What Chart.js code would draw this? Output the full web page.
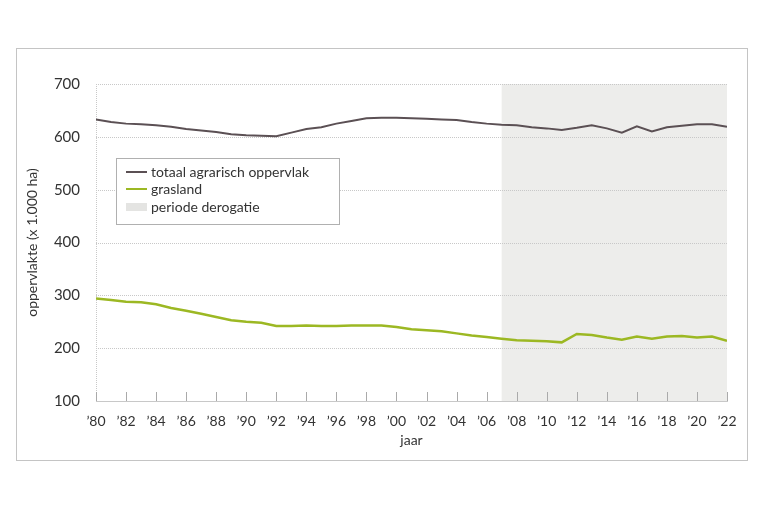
<!DOCTYPE html>
<html>
<head>
<meta charset="utf-8">
<script src="https://cdn.jsdelivr.net/npm/chart.js@4/dist/chart.umd.min.js"></script>
<style>
  body { margin: 0; background: #fff; }
  #wrap { position: relative; width: 770px; height: 513px; }
  #frame { position: absolute; left: 16px; top: 48px; width: 732px; height: 413px; border: 1px solid #c4c4c4; box-sizing: border-box; }
  canvas { position: absolute; left: 0; top: 0; }
</style>
</head>
<body>
<div id="wrap">
  <div id="frame"></div>
  <canvas id="areaChart" width="770" height="513"></canvas>
</div>
<script>
// jaren en waarden (x 1.000 ha)
const years = [1980, 1981, 1982, 1983, 1984, 1985, 1986, 1987, 1988, 1989, 1990,
    1991, 1992, 1993, 1994, 1995, 1996, 1997, 1998, 1999, 2000,
    2001, 2002, 2003, 2004, 2005, 2006, 2007, 2008, 2009, 2010,
    2011, 2012, 2013, 2014, 2015, 2016, 2017, 2018, 2019, 2020, 2021, 2022];
const totaal = [633, 628, 625, 624, 622, 619, 615, 612, 609, 605, 603,
    602, 601, 608, 615, 618, 625, 630, 635, 636, 636,
    635, 634, 633, 632, 628, 625, 623, 622, 618, 616,
    613, 617, 622, 616, 608, 620, 610, 618, 621, 624, 624, 619];
const grasland = [294, 291, 288, 287, 283, 276, 271, 265, 259, 253, 250,
    248, 242, 242, 243, 242, 242, 243, 243, 243, 240,
    236, 234, 232, 228, 224, 221, 218, 215, 214, 213,
    211, 227, 225, 220, 216, 222, 218, 222, 223, 220, 222, 214];
const derogatieStart = 2007;
const derogatieEnd = 2022;
const legendLabels = ['totaal agrarisch oppervlak', 'grasland', 'periode derogatie'];

const textColor = '#333333';
const shadeColor = '#ededeb';

// achtergrond derogatie, tickstreepjes en legenda
const extras = {
    id: 'extras',
    beforeDatasetsDraw(chart) {
        const { ctx, chartArea, scales } = chart;
        const x0 = scales.x.getPixelForValue(derogatieStart);
        const x1 = scales.x.getPixelForValue(derogatieEnd);
        ctx.save();
        ctx.fillStyle = shadeColor;
        ctx.fillRect(x0, chartArea.top, x1 - x0, chartArea.bottom - chartArea.top);
        // gestippelde rasterlijnen
        ctx.strokeStyle = '#c8c8c8';
        ctx.lineWidth = 1;
        ctx.setLineDash([1, 1]);
        scales.y.ticks.forEach(t => {
            const y = Math.round(scales.y.getPixelForValue(t.value)) + 0.5;
            ctx.beginPath();
            ctx.moveTo(chartArea.left, y);
            ctx.lineTo(chartArea.right, y);
            ctx.stroke();
        });
        ctx.beginPath();
        ctx.moveTo(chartArea.left + 0.5, chartArea.top);
        ctx.lineTo(chartArea.left + 0.5, chartArea.bottom);
        ctx.stroke();
        ctx.setLineDash([]);
        // korte streepjes op de x-as
        ctx.strokeStyle = '#aaaaaa';
        scales.x.ticks.forEach(t => {
            const x = Math.round(scales.x.getPixelForValue(t.value)) + 0.5;
            ctx.beginPath();
            ctx.moveTo(x, chartArea.bottom);
            ctx.lineTo(x, chartArea.bottom - 9);
            ctx.stroke();
        });
        ctx.restore();
    },
    afterDatasetsDraw(chart) {
        const { ctx, chartArea } = chart;
        const bx = chartArea.left + 20, by = chartArea.top + 74;
        ctx.save();
        ctx.fillStyle = '#ffffff';
        ctx.fillRect(bx, by, 223, 66);
        ctx.strokeStyle = '#b0b0b0';
        ctx.lineWidth = 1;
        ctx.strokeRect(bx + 0.5, by + 0.5, 223, 66);
        ctx.font = '14px Lato';
        ctx.textBaseline = 'middle';
        const rows = [by + 14, by + 31, by + 49];
        chart.data.datasets.forEach((ds, i) => {
            ctx.strokeStyle = ds.borderColor;
            ctx.lineWidth = 2;
            ctx.beginPath();
            ctx.moveTo(bx + 10, rows[i]);
            ctx.lineTo(bx + 31, rows[i]);
            ctx.stroke();
            ctx.fillStyle = textColor;
            ctx.fillText(ds.label, bx + 35, rows[i]);
        });
        ctx.fillStyle = '#e4e4e2';
        ctx.fillRect(bx + 10, rows[2] - 4, 21, 8);
        ctx.fillStyle = textColor;
        ctx.fillText(legendLabels[2], bx + 35, rows[2]);
        ctx.restore();
    }
};

const ctx = document.getElementById('areaChart').getContext('2d');
const chart = new Chart(ctx, {
    type: 'line',
    data: {
        datasets: [{
            label: legendLabels[0],
            data: years.map((y, i) => ({ x: y, y: totaal[i] })),
            borderColor: '#5b5054',
            borderWidth: 2,
            pointRadius: 0,
            tension: 0,
            fill: false
        },
        {
            label: legendLabels[1],
            data: years.map((y, i) => ({ x: y, y: grasland[i] })),
            borderColor: '#9cb823',
            borderWidth: 2.5,
            pointRadius: 0,
            tension: 0,
            fill: false
        }]
    },
    options: {
        responsive: false,
        animation: false,
        layout: { padding: { left: 20, right: 43, top: 84, bottom: 59 } },
        plugins: { legend: { display: false }, tooltip: { enabled: false } },
        scales: {
            x: {
                type: 'linear',
                min: 1980,
                max: 2022,
                grid: { display: false },
                border: { color: '#c8c8c8', dash: [1, 1] },
                ticks: {
                    stepSize: 2,
                    color: textColor,
                    font: { family: 'Lato', size: 14 },
                    padding: 4,
                    maxRotation: 0,
                    callback: v => '\u2019' + String(v).slice(2)
                },
                title: {
                    display: true,
                    text: 'jaar',
                    color: textColor,
                    font: { family: 'Lato', size: 14 },
                    padding: { top: 0, bottom: 5 }
                },
                afterFit: s => { s.height = 53; }
            },
            y: {
                min: 100,
                max: 700,
                grid: { display: false },
                border: { display: false },
                ticks: {
                    stepSize: 100,
                    color: textColor,
                    font: { family: 'Lato', size: 15 },
                    padding: 8
                },
                title: {
                    display: true,
                    text: 'oppervlakte (x 1.000 ha)',
                    color: textColor,
                    font: { family: 'Lato', size: 14 }
                },
                afterFit: s => { s.width = 76; }
            }
        }
    },
    plugins: [extras]
});
</script>
</body>
</html>
